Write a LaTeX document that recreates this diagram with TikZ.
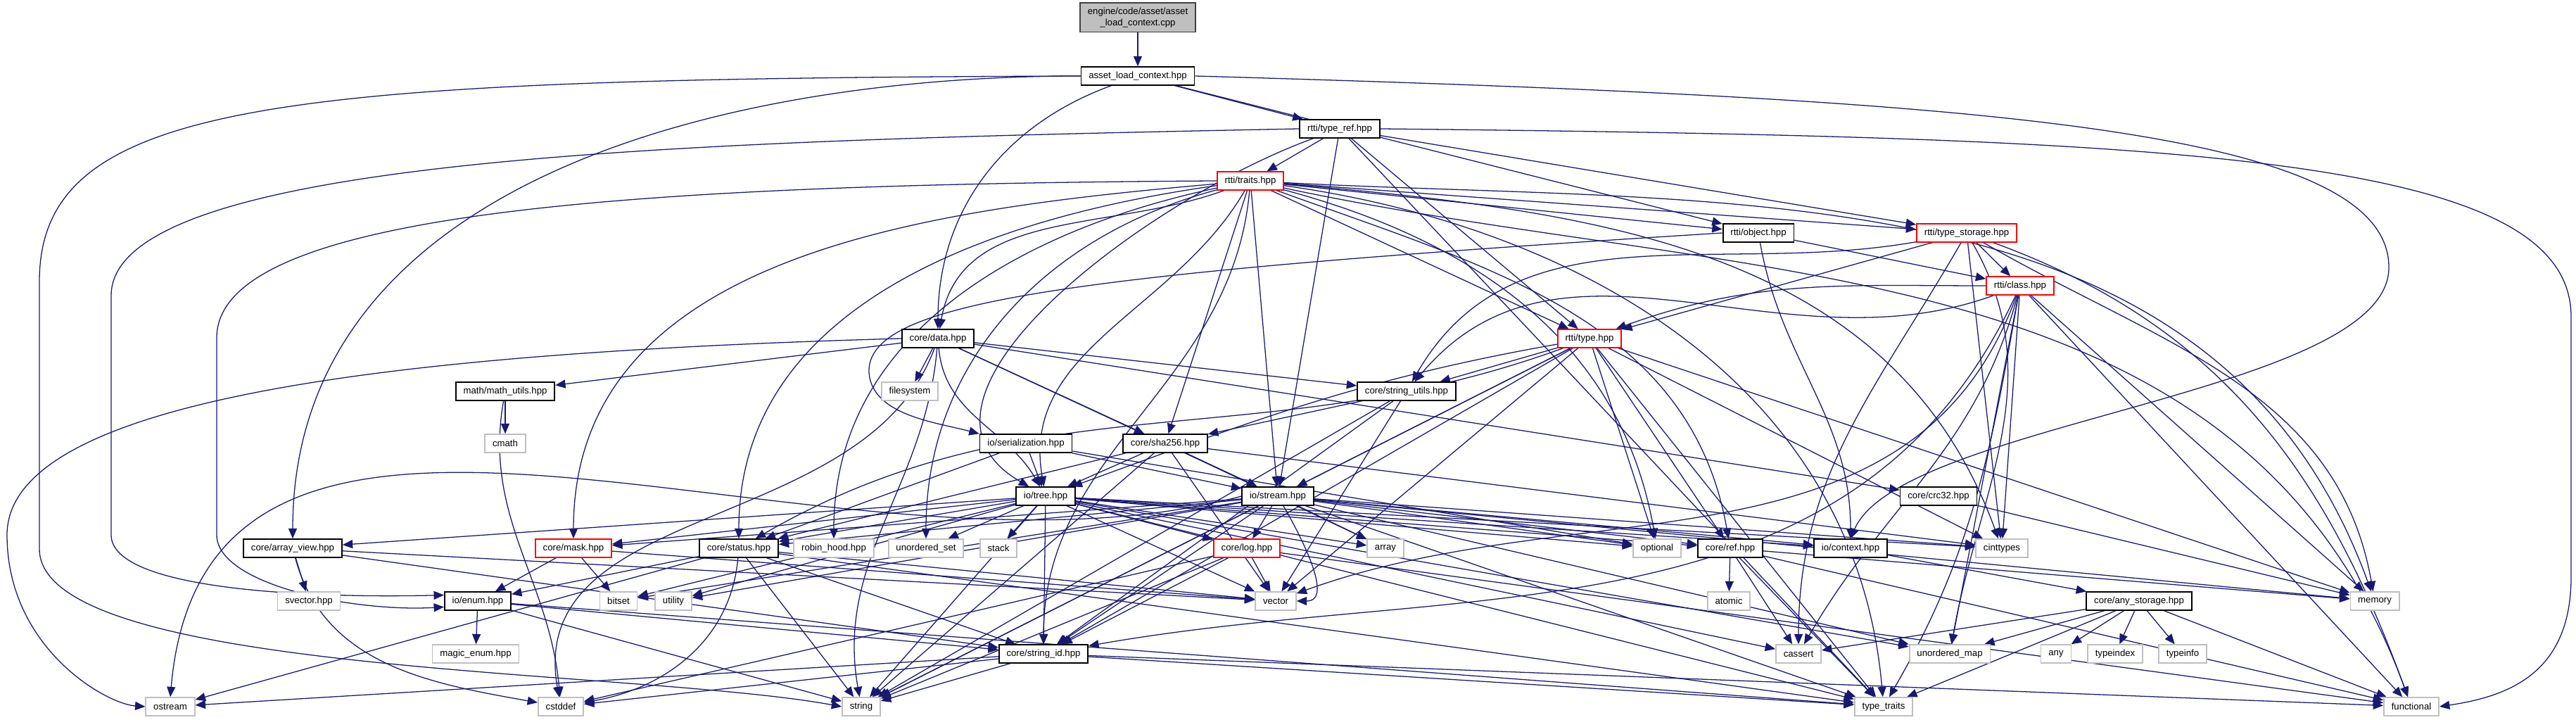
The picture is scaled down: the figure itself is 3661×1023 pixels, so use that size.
\documentclass[tikz,border=0pt]{standalone}
\usepackage{fontspec}
\setmainfont{Liberation Sans}
\usetikzlibrary{arrows.meta}

\definecolor{edgeblue}{RGB}{25,25,112}
\definecolor{boxgray}{RGB}{191,191,191}
\definecolor{sysgray}{RGB}{191,191,191}
\definecolor{darkframe}{RGB}{64,64,64}

\pgfdeclarelayer{edges}
\pgfsetlayers{edges,main}

\begin{document}
\begin{tikzpicture}[
  x=0.25pt, y=-0.25pt,
  base/.style={rectangle, inner xsep=2.7pt, inner ysep=0pt, minimum height=6.4pt, line width=0.45pt, fill=white, font=\fontsize{3.3}{3.9}\selectfont},
  srcfile/.style={base, draw=darkframe, fill=boxgray, align=center, minimum height=10.3pt},
  hdr/.style={base, draw=black},
  redhdr/.style={base, draw=red},
  sys/.style={base, draw=sysgray},
  dep/.style={-{Triangle[length=3.6pt,width=3pt]}, draw=edgeblue, line width=0.32pt}
]
  \useasboundingbox (0,0) rectangle (3661,1023);

  \node[srcfile] (cpp) at (1617,25) {engine/code/asset/asset\\\_load\_context.cpp};
  \node[hdr] (A) at (1617,108) {asset\_load\_context.hpp};
  \node[hdr] (typeref) at (1904,183) {rtti/type\_ref.hpp};
  \node[redhdr] (traits) at (1777,257) {rtti/traits.hpp};
  \node[hdr] (object) at (2499,331) {rtti/object.hpp};
  \node[redhdr] (tstorage) at (2795,331) {rtti/type\_storage.hpp};
  \node[redhdr] (class) at (2871,406) {rtti/class.hpp};
  \node[hdr] (data) at (1333,481) {core/data.hpp};
  \node[redhdr] (type) at (2259,481) {rtti/type.hpp};
  \node[hdr] (mathutils) at (718,556) {math/math\_utils.hpp};
  \node[sys] (filesystem) at (1293,556) {filesystem};
  \node[hdr] (strutils) at (1999,556) {core/string\_utils.hpp};
  \node[sys] (cmath) at (718,630) {cmath};
  \node[hdr] (serial) at (1458,630) {io/serialization.hpp};
  \node[hdr] (sha) at (1656,630) {core/sha256.hpp};
  \node[hdr] (tree) at (1486,705) {io/tree.hpp};
  \node[hdr] (stream) at (1816,705) {io/stream.hpp};
  \node[hdr] (crc) at (2755,705) {core/crc32.hpp};
  \node[hdr] (arrview) at (416,779) {core/array\_view.hpp};
  \node[redhdr] (mask) at (815,779) {core/mask.hpp};
  \node[hdr] (status) at (1050,779) {core/status.hpp};
  \node[sys] (robin) at (1185,779) {robin\_hood.hpp};
  \node[sys] (uset) at (1316,779) {unordered\_set};
  \node[sys] (stack) at (1419,779) {stack};
  \node[redhdr] (log) at (1772,779) {core/log.hpp};
  \node[sys] (array) at (1969,779) {array};
  \node[sys] (optional) at (2355,779) {optional};
  \node[hdr] (ref) at (2459,779) {core/ref.hpp};
  \node[hdr] (context) at (2630,779) {io/context.hpp};
  \node[sys] (cinttypes) at (2845,779) {cinttypes};
  \node[sys] (svector) at (439,854) {svector.hpp};
  \node[hdr] (enum) at (679,854) {io/enum.hpp};
  \node[sys] (bitset) at (879,854) {bitset};
  \node[sys] (utility) at (957,854) {utility};
  \node[sys] (vector) at (1813,854) {vector};
  \node[sys] (atomic) at (2457,854) {atomic};
  \node[hdr] (anystorage) at (3040,854) {core/any\_storage.hpp};
  \node[sys] (memory) at (3375,854) {memory};
  \node[sys] (magicenum) at (676,929) {magic\_enum.hpp};
  \node[hdr] (strid) at (1483,929) {core/string\_id.hpp};
  \node[sys] (cassert) at (2556,929) {cassert};
  \node[sys] (umap) at (2771,929) {unordered\_map};
  \node[sys] (any) at (2922,929) {any};
  \node[sys] (typeindex) at (3006,929) {typeindex};
  \node[sys] (typeinfo) at (3102,929) {typeinfo};
  \node[sys] (ostream) at (242,1004) {ostream};
  \node[sys] (cstddef) at (797,1004) {cstddef};
  \node[sys] (string) at (1224,1004) {string};
  \node[sys] (typetraits) at (2677,1004) {type\_traits};
  \node[sys] (functional) at (3427,1004) {functional};

  \begin{pgfonlayer}{edges}
  % top
  \draw[dep] (cpp) -- (A);
  \draw[dep] (A) -- (typeref);
  \draw[dep] (A) -- (object);
  \draw[dep] (A) to[out=200,in=90] (data);
  \draw[dep] (A) to[out=180,in=90] (arrview);
  \draw[dep] (A.west) .. controls (400,112) and (56,140) .. (56,400) -- (56,780) .. controls (56,960) and (900,950) .. (string.west);
  \draw[dep] (A.east) .. controls (2800,140) and (3395,180) .. (3395,380) .. controls (3395,560) and (2700,600) .. (context.north);

  % rtti/type_ref.hpp
  \draw[dep] (typeref) -- (traits);
  \draw[dep] (typeref) -- (type);
  \draw[dep] (typeref) -- (stream);
  \draw[dep] (typeref) -- (tstorage);
  \draw[dep] (typeref) to[out=200,in=150] (tree);
  \draw[dep] (typeref) -- (typetraits);
  \draw[dep] (typeref.west) .. controls (1000,200) and (158,220) .. (158,420) -- (158,760) .. controls (158,840) and (450,850) .. (enum.170);
  \draw[dep] (typeref.east) .. controls (3100,195) and (3654,220) .. (3654,450) -- (3654,820) .. controls (3654,960) and (3560,990) .. (functional.east);

  % rtti/traits.hpp
  \draw[dep] (traits) to[out=200,in=80] (data);
  \draw[dep] (traits) -- (type);
  \draw[dep] (traits) -- (object);
  \draw[dep] (traits) -- (tstorage);
  \draw[dep] (traits) -- (sha);
  \draw[dep] (traits) -- (stream);
  \draw[dep] (traits) to[out=240,in=100] (tree);
  \draw[dep] (traits) to[out=185,in=90] (mask);
  \draw[dep] (traits) to[out=188,in=90] (status);
  \draw[dep] (traits) to[out=192,in=90] (robin);
  \draw[dep] (traits) to[out=195,in=90] (uset);
  \draw[dep] (traits.west) .. controls (900,262) and (308,300) .. (308,480) -- (308,760) .. controls (308,830) and (500,870) .. (enum.190);
  \draw[dep] (traits) to[out=265,in=90] (strid);
  \draw[dep] (traits) to[out=-15,in=100] (optional);
  \draw[dep] (traits) to[out=-5,in=110] (cinttypes);
  \draw[dep] (traits) to[out=-3,in=110] (memory);
  \draw[dep] (traits) to[out=-8,in=95] (typetraits);
  \draw[dep] (traits) to[out=-12,in=110] (functional);
  \draw[dep] (traits) to[out=-20,in=100] (ref);

  % rtti/object.hpp
  \draw[dep] (object) -- (class);
  \draw[dep] (object) to[out=-80,in=90] (context);
  \draw[dep] (object.west) .. controls (1500,390) and (1230,430) .. (1235,530) .. controls (1240,590) and (1330,600) .. (serial.north west);

  % rtti/type_storage.hpp
  \draw[dep] (tstorage) -- (class);
  \draw[dep] (tstorage) -- (type);
  \draw[dep] (tstorage) to[out=190,in=60] (strutils);
  \draw[dep] (tstorage) to[out=240,in=90] (cassert);
  \draw[dep] (tstorage) -- (cinttypes);
  \draw[dep] (tstorage) to[out=-30,in=100] (memory);
  \draw[dep] (tstorage) to[out=-20,in=110] (functional);
  \draw[dep] (tstorage) to[out=-60,in=80] (umap);

  % rtti/class.hpp
  \draw[dep] (class) to[out=180,in=20] (type);
  \draw[dep] (class) to[out=200,in=50] (strutils);
  \draw[dep] (class) -- (cinttypes);
  \draw[dep] (class) to[out=-110,in=20] (vector);
  \draw[dep] (class) -- (memory);
  \draw[dep] (class) -- (functional);
  \draw[dep] (class) to[out=-100,in=60] (typetraits);
  \draw[dep] (class) to[out=-105,in=60] (cassert);
  \draw[dep] (class) -- (umap);
  \draw[dep] (class) to[out=-115,in=10] (strid);

  % core/data.hpp
  \draw[dep] (data) -- (filesystem);
  \draw[dep] (data) -- (mathutils);
  \draw[dep] (data) -- (strutils);
  \draw[dep] (data) -- (sha);
  \draw[dep] (data) to[out=-85,in=120] (tree);
  \draw[dep] (data) -- (stream);
  \draw[dep] (data) -- (crc);
  \draw[dep] (data.west) .. controls (600,500) and (10,560) .. (10,760) .. controls (10,920) and (150,1000) .. (ostream.west);
  \draw[dep] (data) to[out=-110,in=100] (cstddef);
  \draw[dep] (data) to[out=-95,in=100] (string);

  % rtti/type.hpp
  \draw[dep] (type) -- (strutils);
  \draw[dep] (type) -- (stream);
  \draw[dep] (type) to[out=190,in=20] (tree);
  \draw[dep] (type) to[out=200,in=30] (status);
  \draw[dep] (type) -- (optional);
  \draw[dep] (type) -- (ref);
  \draw[dep] (type) -- (cinttypes);
  \draw[dep] (type) -- (memory);
  \draw[dep] (type) -- (vector);
  \draw[dep] (type) -- (strid);
  \draw[dep] (type) -- (typetraits);
  \draw[dep] (type) -- (string);

  % math, string utils, serialization
  \draw[dep] (mathutils) -- (cmath);
  \draw[dep] (mathutils) to[out=-100,in=95] (cstddef);
  \draw[dep] (strutils) -- (sha);
  \draw[dep] (strutils) -- (string);
  \draw[dep] (strutils) -- (vector);
  \draw[dep] (strutils) -- (strid);
  \draw[dep] (serial) -- (tree);
  \draw[dep] (serial) -- (stream);
  \draw[dep] (serial) -- (status);
  \draw[dep] (serial) -- (optional);

  % core/sha256.hpp, core/crc32.hpp
  \draw[dep] (sha) -- (tree);
  \draw[dep] (sha) -- (stream);
  \draw[dep] (sha) -- (array);
  \draw[dep] (sha) -- (cinttypes);
  \draw[dep] (sha) -- (string);
  \draw[dep] (sha) -- (vector);
  \draw[dep] (sha) -- (status);
  \draw[dep] (crc) -- (memory);

  % io/tree.hpp
  \draw[dep] (tree) -- (arrview);
  \draw[dep] (tree) -- (mask);
  \draw[dep] (tree) -- (status);
  \draw[dep] (tree) -- (uset);
  \draw[dep] (tree) -- (stack);
  \draw[dep] (tree) -- (log);
  \draw[dep] (tree) -- (array);
  \draw[dep] (tree) -- (optional);
  \draw[dep] (tree) -- (ref);
  \draw[dep] (tree) -- (context);
  \draw[dep] (tree) -- (cinttypes);
  \draw[dep] (tree) -- (vector);
  \draw[dep] (tree) -- (strid);
  \draw[dep] (tree) -- (string);
  \draw[dep] (tree) -- (typetraits);
  \draw[dep] (tree) -- (utility);
  \draw[dep] (tree) -- (bitset);
  \draw[dep] (tree) -- (cassert);
  \draw[dep] (tree) -- (umap);

  % io/stream.hpp
  \draw[dep] (stream) -- (status);
  \draw[dep] (stream) -- (mask);
  \draw[dep] (stream) -- (log);
  \draw[dep] (stream) -- (array);
  \draw[dep] (stream) to[out=-60,in=0] (vector);
  \draw[dep] (stream) -- (optional);
  \draw[dep] (stream) -- (ref);
  \draw[dep] (stream) -- (context);
  \draw[dep] (stream) -- (cinttypes);
  \draw[dep] (stream) -- (strid);
  \draw[dep] (stream) -- (string);
  \draw[dep] (stream) -- (typetraits);
  \draw[dep] (stream.west) to[out=195,in=85] (ostream.north);
  \draw[dep] (stream) -- (utility);
  \draw[dep] (stream) -- (bitset);
  \draw[dep] (stream) -- (umap);
  \draw[dep] (stream) -- (memory);

  % core headers
  \draw[dep] (arrview) -- (svector);
  \draw[dep] (arrview) to[out=-75,in=170] (cstddef);
  \draw[dep] (arrview) -- (vector);
  \draw[dep] (arrview) -- (strid);
  \draw[dep] (mask) -- (enum);
  \draw[dep] (mask) -- (bitset);
  \draw[dep] (mask) -- (vector);
  \draw[dep] (status) -- (enum);
  \draw[dep] (status) to[out=-95,in=10] (cstddef);
  \draw[dep] (status) -- (string);
  \draw[dep] (status) -- (ostream);
  \draw[dep] (status) -- (strid);
  \draw[dep] (status) -- (vector);
  \draw[dep] (status) -- (typetraits);
  \draw[dep] (log) -- (vector);
  \draw[dep] (log) -- (string);
  \draw[dep] (log) -- (cstddef);
  \draw[dep] (log) -- (strid);
  \draw[dep] (log) -- (functional);
  \draw[dep] (ref) -- (atomic);
  \draw[dep] (ref) -- (cassert);
  \draw[dep] (ref) -- (typetraits);
  \draw[dep] (ref) -- (memory);
  \draw[dep] (ref) -- (functional);
  \draw[dep] (context) -- (anystorage);

  % core/any_storage.hpp
  \draw[dep] (anystorage) -- (cassert);
  \draw[dep] (anystorage) -- (umap);
  \draw[dep] (anystorage) -- (any);
  \draw[dep] (anystorage) -- (typeindex);
  \draw[dep] (anystorage) -- (typeinfo);
  \draw[dep] (anystorage) -- (functional);
  \draw[dep] (anystorage) -- (typetraits);

  % io/enum.hpp, core/string_id.hpp
  \draw[dep] (enum) -- (magicenum);
  \draw[dep] (enum) -- (string);
  \draw[dep] (enum) -- (strid);
  \draw[dep] (enum) -- (typetraits);
  \draw[dep] (strid) -- (string);
  \draw[dep] (strid) -- (cstddef);
  \draw[dep] (strid) -- (ostream);
  \draw[dep] (strid) -- (typetraits);
  \draw[dep] (strid) -- (functional);
  \end{pgfonlayer}
\end{tikzpicture}
\end{document}
